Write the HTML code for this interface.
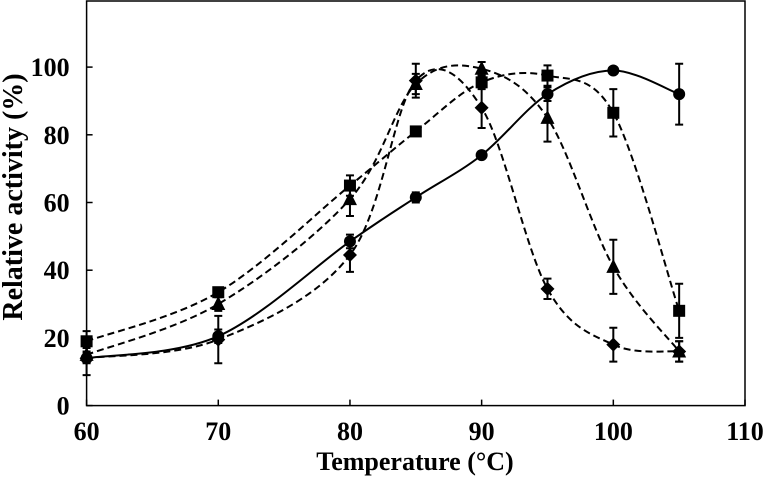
<!DOCTYPE html>
<html><head><meta charset="utf-8"><style>
html,body{margin:0;padding:0;background:#fff;}
svg{display:block;font-family:"Liberation Serif",serif;font-weight:bold;}
</style></head><body>
<svg id="chart" width="765" height="479" viewBox="0 0 765 479"></svg>
<script>
const temps = [60,70,80,85,90,95,100,105];
const circleVals = [14,20.5,48.5,61.5,74,92,99,92];
const circleErr = [1.5,2,2,1.5,1,2,1,9];
const squareVals = [19,33.5,65,81,95.5,97.5,86.5,28];
const squareErr = [3,1,3,1,2,3,7,8];
const triangleVals = [15,30,61,95,99.5,85,41,16];
const triangleErr = [2,2,5,3,2,7,8,3];
const diamondVals = [14,19.5,44.5,96,88,34.5,18,16];
const diamondErr = [5,7,5,5,6,3,5,3];
const xTicks = [60,70,80,90,100,110];
const yTicks = [0,20,40,60,80,100];

const X0=86.6, X1=745, Y0=405.6, Ypx=3.385;
const xs = v => X0 + (v-60)*(X1-X0)/50;
const ys = v => Y0 - v*Ypx;
const svg = document.getElementById('chart');
const NS='http://www.w3.org/2000/svg';
function mk(tag, attrs, parent){const e=document.createElementNS(NS,tag);for(const k in attrs)e.setAttribute(k,attrs[k]);(parent||svg).appendChild(e);return e;}

const frame = mk('rect',{x:X0,y:1,width:X1-X0,height:Y0-1,fill:'none',stroke:'#000','stroke-width':1.5});



yTicks.forEach(t=>{
  const l=mk('line',{x1:X0,x2:X0+6,y1:ys(t),y2:ys(t),stroke:'#000','stroke-width':1.5});
  
  
  const tx=mk('text',{x:X0-17,y:ys(t)+9,'text-anchor':'end','font-size':26});
  tx.textContent=t;
  
  
});
xTicks.forEach(t=>{
  const l=mk('line',{x1:xs(t),x2:xs(t),y1:Y0,y2:Y0-6,stroke:'#000','stroke-width':1.5});
  
  
  const tx=mk('text',{x:xs(t),y:440,'text-anchor':'middle','font-size':26});
  tx.textContent=t;
  
  
});
const xt=mk('text',{x:415,y:470,'text-anchor':'middle','font-size':26});
xt.textContent='Temperature (°C)';


const yt=mk('text',{x:0,y:0,'text-anchor':'middle','font-size':28,transform:'translate(22,197) rotate(-90)'});
yt.textContent='Relative activity (%)';



function smoothPath(vals){
  const p=temps.map((t,i)=>[xs(t),ys(vals[i])]);
  let d=`M${p[0][0]},${p[0][1]}`;
  for(let i=0;i<p.length-1;i++){
    const a=p[Math.max(i-1,0)],b=p[i],c=p[i+1],e=p[Math.min(i+2,p.length-1)];
    const c1=[b[0]+(c[0]-a[0])/6,b[1]+(c[1]-a[1])/6];
    const c2=[c[0]-(e[0]-b[0])/6,c[1]-(e[1]-b[1])/6];
    d+=` C${c1[0]},${c1[1]} ${c2[0]},${c2[1]} ${c[0]},${c[1]}`;
  }
  return d;
}
function series(name,vals,errs,dash,marker){
  const g=mk('g',{});
  
  
  const path=mk('path',{d:smoothPath(vals),fill:'none',stroke:'#000','stroke-width':2,'stroke-dasharray':dash?'7,4':'none'},g);
  
  
  temps.forEach((t,i)=>{
    const x=xs(t),y=ys(vals[i]),e=errs[i]*Ypx;
    const eb=mk('path',{d:`M${x},${y-e}V${y+e}M${x-4},${y-e}H${x+4}M${x-4},${y+e}H${x+4}`,stroke:'#000','stroke-width':2,fill:'none'},g);
    
    
    let m;
    if(marker==='circle') m=mk('circle',{cx:x,cy:y,r:6,fill:'#000'},g);
    else if(marker==='square') m=mk('rect',{x:x-6,y:y-6,width:12,height:12,fill:'#000'},g);
    else if(marker==='triangle') m=mk('polygon',{points:`${x},${y-8} ${x+7},${y+6} ${x-7},${y+6}`,fill:'#000'},g);
    else m=mk('polygon',{points:`${x},${y-7} ${x+7},${y} ${x},${y+7} ${x-7},${y}`,fill:'#000'},g);
    
    
  });
}
series('diamond',diamondVals,diamondErr,true,'diamond');
series('triangle',triangleVals,triangleErr,true,'triangle');
series('square',squareVals,squareErr,true,'square');
series('circle',circleVals,circleErr,false,'circle');
</script>
</body></html>
